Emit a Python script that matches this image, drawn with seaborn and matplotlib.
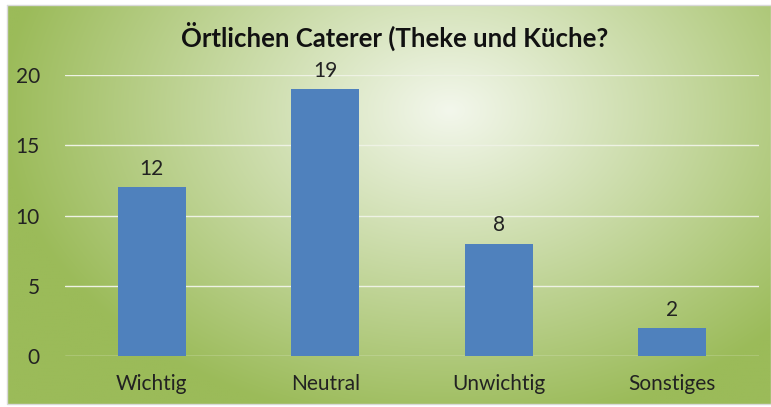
import numpy as np
import pandas as pd
import matplotlib
matplotlib.use("Agg")
import matplotlib.pyplot as plt
import seaborn as sns

categories = ["Wichtig", "Neutral", "Unwichtig", "Sonstiges"]
values = [12, 19, 8, 2]
title = "Örtlichen Caterer (Theke und Küche?"
yticks = [0, 5, 10, 15, 20]

sns.set_theme(style="white")
plt.rcParams['font.family'] = ['Lato', 'DejaVu Sans']

W, H = 771, 407
fig = plt.figure(figsize=(W / 100, H / 100), dpi=100)
fig.patch.set_facecolor("white")

# background gradient panel
bg = fig.add_axes([0, 0, 1, 1])
bg.set_xlim(0, W)
bg.set_ylim(H, 0)
bg.axis("off")
x0, x1, y0, y1 = 7, 771, 5, 404
xx, yy = np.meshgrid(np.linspace(x0, x1, 400), np.linspace(y0, y1, 220))
cx, cy = 450, 110
d = np.sqrt(((xx - cx) / 450) ** 2 + ((yy - cy) / 320) ** 2)
t = np.clip(d, 0, 1) ** 1.0
c_in = np.array([243, 247, 236]) / 255
c_out = np.array([155, 187, 89]) / 255
img = c_in[None, None, :] * (1 - t[..., None]) + c_out[None, None, :] * t[..., None]
bg.imshow(img, extent=[x0, x1, y1, y0], aspect="auto", interpolation="bilinear")
bg.plot([x0, x1, x1, x0, x0], [y0, y0, y1, y1, y0], color="#d9d9d9", lw=1)

ax = fig.add_axes([65 / W, 1 - 356 / H, (759 - 65) / W, (356 - 75) / H])
ax.patch.set_alpha(0)
df = pd.DataFrame({"cat": categories, "val": values})
sns.barplot(data=df, x="cat", y="val", color="#4F81BD", saturation=1, width=0.39,
            linewidth=0, edgecolor="none", ax=ax, zorder=3)
ax.set_ylim(0, 20)
ax.set_yticks(yticks)
for yv in yticks:
    ax.axhline(yv, color="#eef2e4", lw=1, zorder=1)
for c in ax.containers:
    ax.bar_label(c, padding=6, fontsize=15, color="#222222")
ax.set_xlabel("")
ax.set_ylabel("")
for s in ax.spines.values():
    s.set_visible(False)
ax.tick_params(axis="y", length=0, pad=18, labelsize=15, labelcolor="#222222")
ax.tick_params(axis="x", length=0, pad=13, labelsize=15, labelcolor="#222222")
fig.text(395 / W, 1 - 36 / H, title, ha="center", va="center", fontsize=18.5, fontweight="bold", color="#111111")

fig.savefig("out.png", dpi=100)
